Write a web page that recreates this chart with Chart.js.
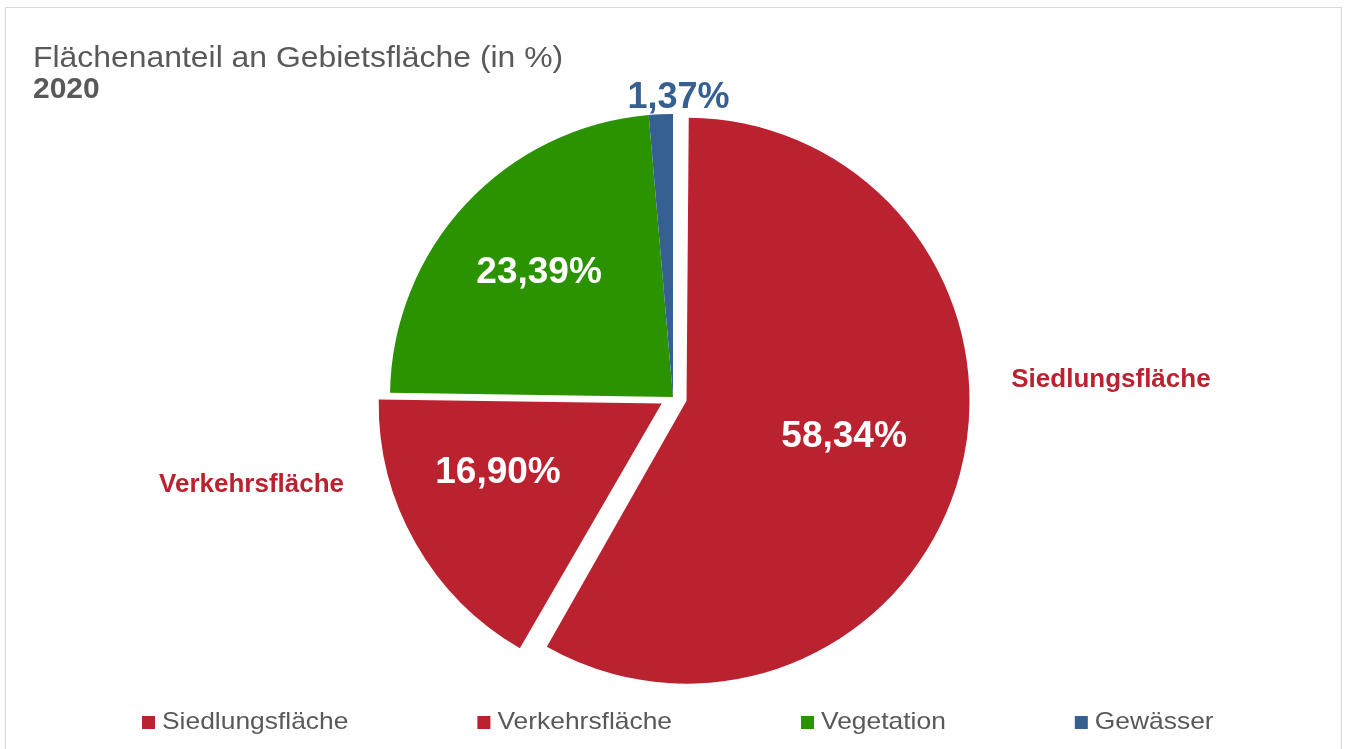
<!DOCTYPE html>
<html lang="de">
<head>
  <meta charset="utf-8" />
  <title>Flächenanteil an Gebietsfläche</title>
  <style>
html, body { margin: 0; padding: 0; background: #fff; }
#chartContainer { position: relative; width: 1347px; height: 749px; }
  </style>
</head>
<body>
  <div id="chartContainer">
    <canvas id="myChart"></canvas>
  </div>
  <script src="https://cdn.jsdelivr.net/npm/chart.js"></script>
  <script>
// Daten
const categories = ['Siedlungsfläche', 'Verkehrsfläche', 'Vegetation', 'Gewässer'];
const shares = [58.34, 16.90, 23.39, 1.37];
const titleText = 'Flächenanteil an Gebietsfläche (in %)';
const yearText = '2020';

const sliceColors = ['#BB2230', '#BB2230', '#2C9300', '#366092'];
const sliceOffsets = [56, 52, 0, 0]; // Chart.js verschiebt um offset/4
const FONT = '"Liberation Sans", Arial, sans-serif';

function fmt(v) {
  return v.toFixed(2).replace('.', ',') + '%';
}

// Text leicht in die Breite gezogen (Original-Schrift läuft breiter)
function drawStretched(ctx, text, x, y, sx) {
  ctx.save();
  ctx.translate(x, y);
  ctx.scale(sx, 1);
  ctx.fillText(text, 0, 0);
  ctx.restore();
  return ctx.measureText(text).width * sx;
}

// [Winkel-Korrektur in Grad, Radius-Faktor] relativ zur Kreismitte
const valuePos = [[-2.6, 0.619], [6.9, 0.67], [0.5, 0.652], [3.5, 1.064]];
const namePos = [[-17.55, 1.549], [18, 1.52], null, null];

const decoPlugin = {
  id: 'deco',
  afterDatasetUpdate(chart) {
    // beim Herausziehen vergrößert Chart.js den Radius, hier wieder ausgleichen
    const meta = chart.getDatasetMeta(0);
    const R = meta.controller.outerRadius;
    meta.data.forEach((arc, i) => {
      const off = (sliceOffsets[i] || 0) / 4;
      const fix = 1 - Math.sin(Math.min(Math.PI, arc.circumference));
      arc.outerRadius = R - off * fix;
    });
  },
  beforeDraw(chart) {
    const ctx = chart.ctx;
    ctx.save();
    ctx.strokeStyle = '#d9d9d9';
    ctx.lineWidth = 1;
    ctx.strokeRect(5.5, 7.5, 1336, 780);
    ctx.fillStyle = '#595959';
    ctx.textBaseline = 'alphabetic';
    ctx.font = '29px ' + FONT;
    drawStretched(ctx, titleText, 33, 67, 1.1);
    ctx.font = 'bold 30px ' + FONT;
    ctx.fillText(yearText, 33, 98);

    // Legende
    let x = 142;
    ctx.font = '24px ' + FONT;
    categories.forEach((c, i) => {
      ctx.fillStyle = sliceColors[i];
      ctx.fillRect(x, 716, 13, 13);
      ctx.fillStyle = '#595959';
      const w = drawStretched(ctx, c, x + 20, 729, 1.1);
      x = x + 20 + w + 129;
    });
    ctx.restore();
  },
  afterDatasetsDraw(chart) {
    const ctx = chart.ctx;
    const meta = chart.getDatasetMeta(0);
    const R = meta.controller.outerRadius;
    ctx.save();
    ctx.textAlign = 'center';
    ctx.textBaseline = 'alphabetic';
    meta.data.forEach((arc, i) => {
      const p = arc.getProps(['x', 'y', 'startAngle', 'endAngle'], true);
      const mid = (p.startAngle + p.endAngle) / 2;
      const vp = valuePos[i];
      const a = mid + vp[0] * Math.PI / 180;
      const r = R * vp[1];
      const inside = vp[1] < 1;
      const size = inside ? 37 : 36;
      ctx.font = 'bold ' + size + 'px ' + FONT;
      ctx.fillStyle = inside ? '#ffffff' : sliceColors[i];
      ctx.fillText(fmt(shares[i]), p.x + Math.cos(a) * r, p.y + Math.sin(a) * r + size * 0.344);
      const np = namePos[i];
      if (np) {
        const a2 = mid + np[0] * Math.PI / 180;
        const r2 = R * np[1];
        ctx.font = 'bold 26px ' + FONT;
        ctx.fillStyle = sliceColors[i];
        ctx.fillText(categories[i], p.x + Math.cos(a2) * r2, p.y + Math.sin(a2) * r2 + 26 * 0.344);
      }
    });
    ctx.restore();
  }
};

const chart = new Chart(document.getElementById('myChart'), {
  type: 'pie',
  data: {
    labels: categories,
    datasets: [{
      data: shares,
      backgroundColor: sliceColors,
      borderWidth: 0,
      offset: sliceOffsets,
      hoverOffset: 0,
      radius: 283
    }]
  },
  options: {
    responsive: true,
    maintainAspectRatio: false,
    animation: false,
    events: [],
    layout: { padding: { left: 0, right: 1, top: 45, bottom: 0 } },
    plugins: {
      legend: { display: false },
      tooltip: { enabled: false },
      title: { display: false }
    }
  },
  plugins: [decoPlugin]
});
  </script>
</body>
</html>
